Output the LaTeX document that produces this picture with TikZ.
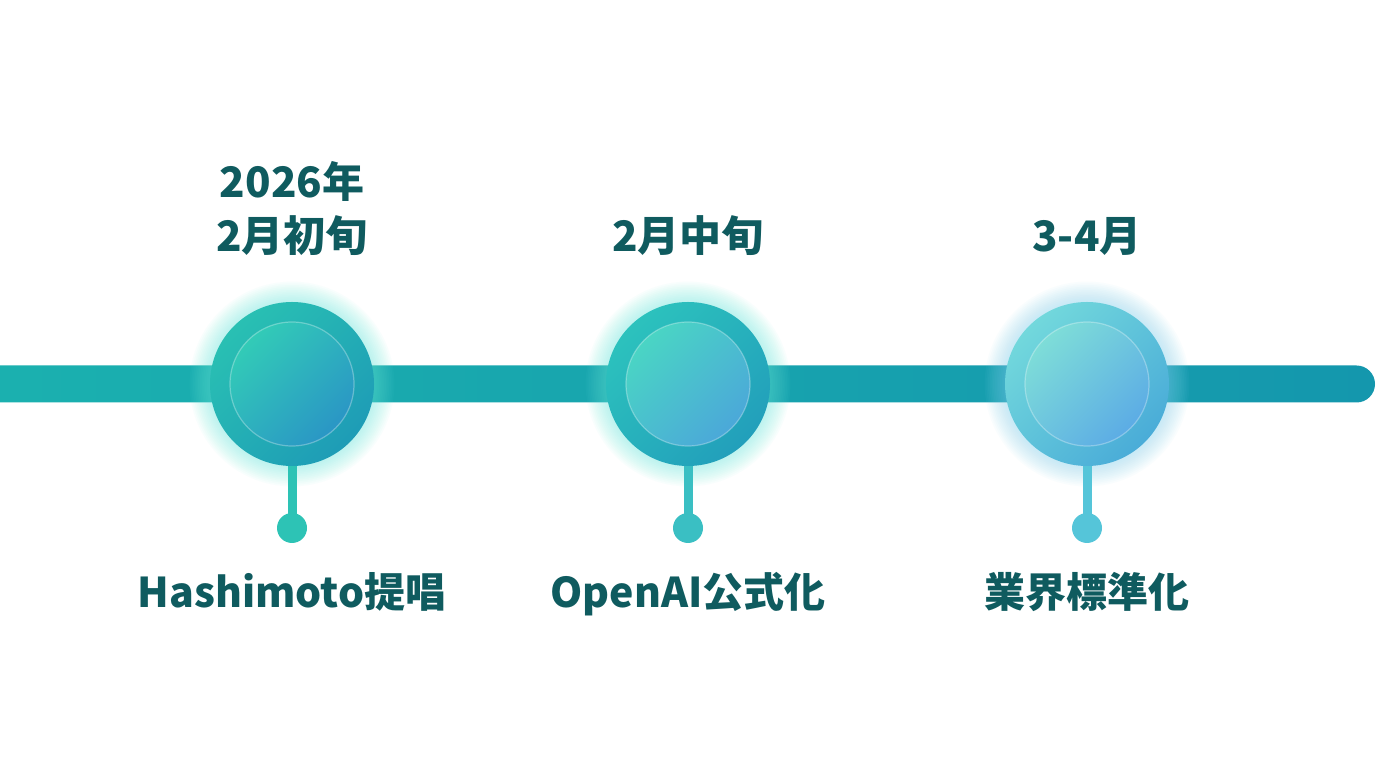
\documentclass[tikz,border=0pt]{standalone}
\usepackage{fontspec}
\setmainfont{Noto Sans CJK JP}
\usepackage{xcolor,tikz}
\usetikzlibrary{calc,positioning,backgrounds}
\tikzset{>=stealth}

\definecolor{inkteal}{HTML}{0F5B5F}
\definecolor{barleft}{HTML}{1BB1AF}
\definecolor{barright}{HTML}{1497AD}
\definecolor{ringA}{HTML}{29C0B3}\definecolor{ringAd}{HTML}{1E9CB6}
\definecolor{coreA}{HTML}{32CBB7}\definecolor{coreAd}{HTML}{2A96C5}
\definecolor{ringB}{HTML}{2CC2BD}\definecolor{ringBd}{HTML}{229FBB}
\definecolor{coreB}{HTML}{4AD5C4}\definecolor{coreBd}{HTML}{4BA8D9}
\definecolor{ringC}{HTML}{72D8DC}\definecolor{ringCd}{HTML}{4AACD8}
\definecolor{coreC}{HTML}{7EDDD8}\definecolor{coreCd}{HTML}{5CACE5}
\definecolor{stemA}{HTML}{2DC3B5}
\definecolor{stemB}{HTML}{3ABFC3}
\definecolor{stemC}{HTML}{55C5D9}
\definecolor{glowA}{HTML}{6FEDE0}
\definecolor{glowC}{HTML}{8AD6F6}

\tikzset{
  datelabel/.style={font=\fontsize{42}{54}\selectfont\bfseries, text=inkteal,
    align=center, anchor=base, inner sep=0pt},
  eventlabel/.style={font=\fontsize{41}{54}\selectfont\bfseries, text=inkteal,
    anchor=base, inner sep=0pt},
  ring/.style={circle, minimum size=164pt, inner sep=0pt, shading angle=45},
  core/.style={circle, minimum size=124pt, inner sep=0pt, draw=white,
    draw opacity=0.3, line width=1.2pt},
  dot/.style={circle, minimum size=30pt, inner sep=0pt},
  stem/.style={line width=9pt},
}

\begin{document}
\begin{tikzpicture}[x=1pt,y=1pt]
\useasboundingbox (0,0) rectangle (1376,768);

% milestones
\node[ring, top color=ringA, bottom color=ringAd, shading angle=45] (m1) at (292,384) {};
\node[ring, top color=ringB, bottom color=ringBd, shading angle=45] (m2) at (688,384) {};
\node[ring, top color=ringC, bottom color=ringCd, shading angle=45] (m3) at (1087,384) {};
\node[core, top color=coreA, bottom color=coreAd, shading angle=45] (c1) at (m1) {};
\node[core, top color=coreB, bottom color=coreBd, shading angle=45] (c2) at (m2) {};
\node[core, top color=coreC, bottom color=coreCd, shading angle=45] (c3) at (m3) {};

\node[dot, fill=stemA] (d1) at (292,240) {};
\node[dot, fill=stemB] (d2) at (688,240) {};
\node[dot, fill=stemC] (d3) at (1087,240) {};

\begin{scope}[on background layer]
\fill[white] (0,0) rectangle (1376,768);
\coordinate (barstart) at (-40,384);
\coordinate (barend) at (1375,384);
\shade[left color=barleft, right color=barright, rounded corners=18.5pt]
  ($(barstart)+(0,-18.5)$) rectangle ($(barend)+(0,18.5)$);
% glow
\foreach \k in {1,...,12} {
  \fill[glowA, opacity=0.045] (m1) circle ({82+1.7*\k});
  \fill[glowA, opacity=0.045] (m2) circle ({82+1.7*\k});
  \fill[glowC, opacity=0.045] (m3) circle ({82+1.7*\k});
}
\draw[stem, stemA] (m1.south) -- (d1.center);
\draw[stem, stemB] (m2.south) -- (d2.center);
\draw[stem, stemC] (m3.south) -- (d3.center);
\end{scope}

% labels
\node[datelabel] (t1) at (292,516) {2026年\\2月初旬};
\node[datelabel] (t2) at (688,516) {2月中旬};
\node[datelabel] (t3) at (1087,516) {3-4月};
\node[eventlabel] (e1) at (292,160) {Hashimoto提唱};
\node[eventlabel] (e2) at (688,160) {OpenAI公式化};
\node[eventlabel] (e3) at (1087,160) {業界標準化};
\end{tikzpicture}
\end{document}
